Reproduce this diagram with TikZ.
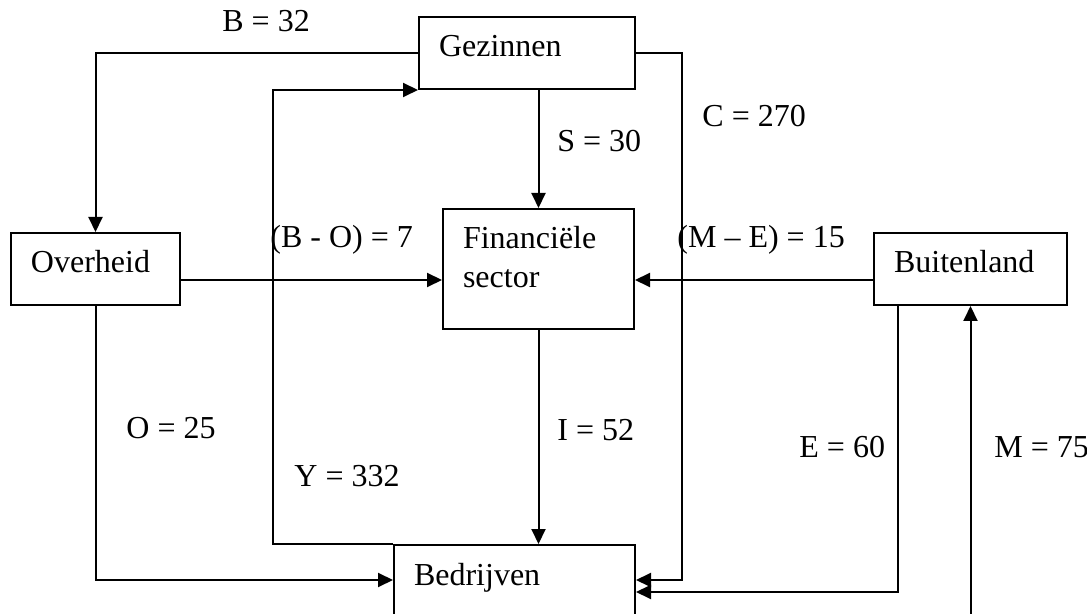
\documentclass[tikz,border=0pt]{standalone}
\usepackage{fontspec}
\setmainfont{Liberation Serif}
\usetikzlibrary{arrows.meta, positioning, calc}

\begin{document}
\begin{tikzpicture}[
    x=0.5pt, y=-0.5pt,
    font=\fontsize{16}{19.5}\selectfont,
    sector/.style={rectangle, draw, line width=1pt, anchor=north west, align=left,
        inner xsep=10pt, inner ysep=9pt, text height=11pt, text depth=7pt},
    flow/.style={-{Triangle[length=7.5pt, width=7pt]}, line width=1pt},
    bedrag/.style={anchor=base west, inner sep=0pt}
]
    \useasboundingbox (0,0) rectangle (1087,614);
    \clip (0,0) rectangle (1087,614);

    % Sectoren
    \node[sector, text width=88pt] (gez) at (418,16) {Gezinnen};
    \node[sector, text width=64.5pt] (ovh) at (10,232) {Overheid};
    \node[sector, text width=75.5pt, text depth=31pt] (fin) at (442,208) {Financiële\\sector};
    \node[sector, text width=76.5pt] (bui) at (873,232) {Buitenland};
    \node[sector, text width=100.5pt, text depth=21pt] (bed) at (393,544) {Bedrijven};

    % Knikpunten
    \coordinate (mid) at (0,280);
    \coordinate (cturn) at (682,580);
    \coordinate (eturn) at (898,592);
    \coordinate (yturn) at (273,544);
    \coordinate (mstart) at (970,640);

    % Stromen
    \draw[flow] (gez.west) -| (ovh.north);
    \draw[flow] (gez.east) -| (cturn) -- (bed.east |- cturn);
    \draw[flow] (gez.south -| fin.north) -- (fin.north);
    \draw[flow] (ovh.east |- mid) -- (fin.west |- mid);
    \draw[flow] (bui.west |- mid) -- (fin.east |- mid);
    \draw[flow] (fin.south) -- (bed.north -| fin.south);
    \draw[flow] (ovh.south) |- (bed.west |- cturn);
    \draw[flow] (bed.north west) -- (yturn) |- (gez.south west);
    \draw[flow] (bui.south -| eturn) -- (eturn) -- (bed.east |- eturn);
    \draw[flow] (bui.south |- mstart) -- (bui.south);

    % Bedragen
    \node[bedrag] (lb) at (222,32) {B = 32};
    \node[bedrag] (lc) at (702,127) {C = 270};
    \node[bedrag] (ls) at (557,152) {S = 30};
    \node[bedrag] (lbo) at (270,248) {(B - O) = 7};
    \node[bedrag] (lme) at (677,248) {(M – E) = 15};
    \node[bedrag] (lo) at (126,439) {O = 25};
    \node[bedrag] (ly) at (294,487) {Y = 332};
    \node[bedrag] (li) at (557,441) {I = 52};
    \node[bedrag] (le) at (799,458) {E = 60};
    \node[bedrag] (lm) at (994,458) {M = 75};
\end{tikzpicture}
\end{document}
